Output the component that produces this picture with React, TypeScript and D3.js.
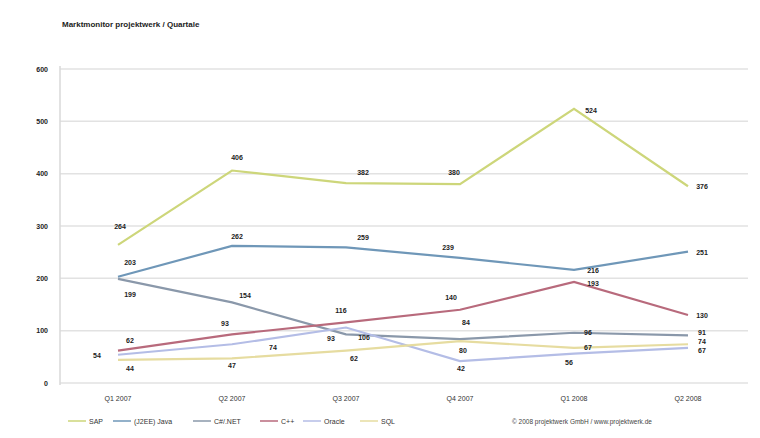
import React from "react";
import * as d3 from "d3";

const quarters = ["Q1 2007", "Q2 2007", "Q3 2007", "Q4 2007", "Q1 2008", "Q2 2008"];
const sap = [264, 406, 382, 380, 524, 376];
const java = [203, 262, 259, 239, 216, 251];
const dotnet = [199, 154, 93, 84, 96, 91];
const cpp = [62, 93, 116, 140, 193, 130];
const oracle = [54, 74, 106, 42, 56, 67];
const sql = [44, 47, 62, 80, 67, 74];
const seriesNames = ["SAP", "(J2EE) Java", "C#/.NET", "C++", "Oracle", "SQL"];
const yTicks = [0, 100, 200, 300, 400, 500, 600];

const W = 760;
const H = 438;

// label offsets (dx, dy of baseline) relative to each point, per series
const labelOffsets: [number, number][][] = [
  [[2, -16], [5, -11], [17, -8], [-6, -9], [17, 4], [14, 3]],
  [[12, -12], [5, -7], [17, -7], [-12, -8], [19, 3], [14, 3]],
  [[12, 18], [13, -4], [-15, 7], [6, -14], [14, 2], [14, 0]],
  [[12, -8], [-7, -8], [-5, -9], [-9, -10], [19, 4], [14, 3]],
  [[-21, 3], [41, 6], [18, 12], [1, 10], [-5, 11], [14, 5.5]],
  [[12, 11], [0, 10], [8, 10], [3, 12], [14, 2], [14, 0]],
];

export default function App() {
  const x = d3.scalePoint<string>().domain(quarters).range([61, 745]).padding(0.5);
  const y = d3.scaleLinear().domain([0, 600]).range([383, 69]);
  const line = d3
    .line<number>()
    .x((_, i) => x(quarters[i]) as number)
    .y((d) => y(d));

  const all = [sap, java, dotnet, cpp, oracle, sql];
  const colors = ["#cdd67a", "#6f97b8", "#8a98aa", "#b86a7c", "#b4bde6", "#e6dca0"];
  const legendX = [68, 113, 193, 260, 303, 360];

  return (
    <svg
      width={W}
      height={H}
      style={{ position: "absolute", left: 0, top: 0, background: "#fff" }}
      fontFamily="Liberation Sans, Arial, sans-serif"
    >
      <text x={62} y={27} fontSize={8} fontWeight="bold" fill="#222">
        Marktmonitor projektwerk / Quartale
      </text>
      {yTicks.map((t) => (
        <g key={t}>
          <line x1={60} x2={748} y1={y(t)} y2={y(t)} stroke="#e2e2e2" strokeWidth={1.5} />
          <text x={48} y={y(t) + 2.5} fontSize={7} textAnchor="end" fill="#222" fontWeight="bold">
            {t}
          </text>
        </g>
      ))}
      <line x1={60} x2={60} y1={66} y2={385} stroke="#d8d8d8" strokeWidth={1.5} />
      {quarters.map((q) => (
        <text key={q} x={x(q)} y={401} fontSize={7} textAnchor="middle" fill="#333">
          {q}
        </text>
      ))}
      {all.map((s, si) => (
        <path key={si} d={line(s) || ""} fill="none" stroke={colors[si]} strokeWidth={2.2} />
      ))}
      {all.map((s, si) =>
        s.map((v, i) => {
          const px = x(quarters[i]) as number;
          const py = y(v);
          const [dx, dy] = labelOffsets[si][i];
          return (
            <text
              key={si + "-" + i}
              x={px + dx}
              y={py + dy}
              fontSize={7}
              fontWeight="bold"
              textAnchor="middle"
              fill="#222"
            >
              {v}
            </text>
          );
        })
      )}
      {seriesNames.map((n, i) => (
        <g key={n}>
          <line x1={legendX[i]} x2={legendX[i] + 18} y1={421} y2={421} stroke={colors[i]} strokeWidth={1.5} />
          <text x={legendX[i] + 21} y={423.5} fontSize={7} fill="#333">
            {n}
          </text>
        </g>
      ))}
      <text x={512} y={423.5} fontSize={6.5} fill="#444">
        © 2008 projektwerk GmbH / www.projektwerk.de
      </text>
    </svg>
  );
}
